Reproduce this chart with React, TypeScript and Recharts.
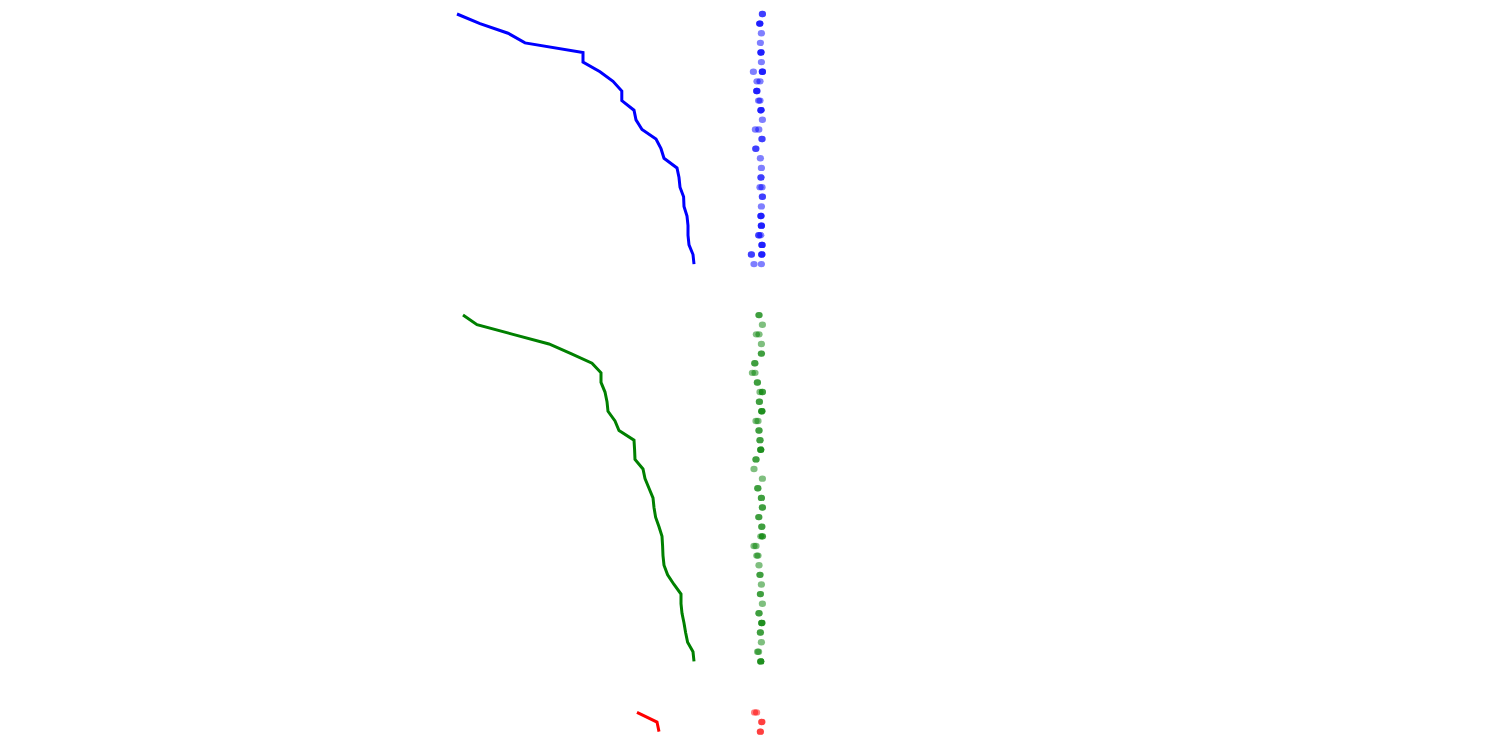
import React from "react";
import { ScatterChart, Scatter, XAxis, YAxis } from "recharts";

// Line values per row (value units), top to bottom
const blueLineValues = [224.5, 236, 250, 258.5, 287.5, 287.5, 296, 302.5, 306.9, 306.9, 313, 314, 317, 324, 326.5, 328, 334.5, 335.5, 336, 337.8, 338, 339.5, 340, 340, 340.5, 342.5, 343];
const greenLineValues = [227.5, 234.5, 252.5, 270.5, 281.5, 292, 296.5, 296.5, 298.5, 299.5, 300, 303.5, 305.5, 313, 313.3, 313.5, 317.5, 318.5, 320.5, 322.5, 323, 323.8, 325.5, 327, 327.3, 327.5, 328, 329.8, 333, 336.5, 336.5, 337, 338, 338.8, 339.8, 342.5, 343];
const redLineValues = [314.5, 324.5, 325.5];

// Point values per row
const blueDotValues: number[][] = [
  [377.2, 377.2], [375.9, 375.9, 375.9], [376.7], [376.2], [376.5, 376.5, 376.5], [376.7],
  [372.7, 377.2, 377.2, 377.2], [374.5, 376], [374.4, 374.4, 374.4], [375.3, 376], [376.5, 376.5, 376.5],
  [377.2], [373.7, 375.4], [377, 377], [373.9, 373.9], [376.2], [376.7], [376.5, 376.5], [376, 377],
  [377.2, 377.2], [376.7], [376.5, 376.5, 376.5], [376.7, 376.7, 376.7], [375.4, 375.4, 376.4],
  [377, 377, 377], [371.7, 371.7, 376.9, 376.9, 376.9], [373, 376.7],
];
const greenDotValues: number[][] = [
  [375.5, 375.5], [377.2], [374.2, 375.5], [376.7], [376.7, 376.7], [373.4, 373.4], [372.2, 373.5],
  [374.7, 374.7], [376, 377.2, 377.2], [375.7, 375.7], [376.9, 376.9, 376.9], [374, 375], [375.5, 375.5],
  [376, 376], [376.4, 376.4, 376.4], [374, 374], [373], [377.2], [374.9, 374.9], [376.7, 376.7],
  [377.2, 377.2], [375.4, 375.4], [376.9, 376.9], [376.4, 377.2, 377.2], [373, 374], [374.4, 375],
  [375.5], [376, 376], [376.7], [376.2, 376.2], [377.2], [375.5, 375.5], [376.9, 376.9, 376.9],
  [376.2, 376.2], [376.7], [374.8, 375.3], [376.4, 376.4, 376.4],
];
const redDotValues: number[][] = [[373.3, 374.3], [376.9, 376.9], [376.2, 376.2]];

// Row offsets of each group
const BLUE_OFFSET = 0;
const GREEN_OFFSET = 31.3;
const RED_OFFSET = 72.6;

const toLine = (vals: number[], off: number) => vals.map((x, i) => ({ x, y: off + i }));
const toDots = (rows: number[][], off: number) =>
  rows.flatMap((r, i) => r.map((x) => ({ x, y: off + i })));

const blueLine = toLine(blueLineValues, BLUE_OFFSET);
const greenLine = toLine(greenLineValues, GREEN_OFFSET);
const redLine = toLine(redLineValues, RED_OFFSET);
const blueDots = toDots(blueDotValues, BLUE_OFFSET);
const greenDots = toDots(greenDotValues, GREEN_OFFSET);
const redDots = toDots(redDotValues, RED_OFFSET);

const noShape = () => <g />;
const dotShape = (color: string) => (props: any) => (
  <ellipse cx={props.cx} cy={props.cy} rx={3.6} ry={3.2} fill={color} fillOpacity={0.5} />
);

export default function App() {
  return (
    <ScatterChart width={1484} height={734} margin={{ top: 0, right: 0, bottom: 0, left: 0 }}>
      <XAxis type="number" dataKey="x" domain={[0, 742]} hide allowDataOverflow />
      <YAxis type="number" dataKey="y" domain={[-0.624, 75.676]} reversed hide allowDataOverflow />
      <Scatter data={blueLine} line={{ stroke: "#0000ff", strokeWidth: 3 }} lineType="joint" shape={noShape} isAnimationActive={false} />
      <Scatter data={greenLine} line={{ stroke: "#008000", strokeWidth: 3 }} lineType="joint" shape={noShape} isAnimationActive={false} />
      <Scatter data={redLine} line={{ stroke: "#ff0000", strokeWidth: 3 }} lineType="joint" shape={noShape} isAnimationActive={false} />
      <Scatter data={blueDots} shape={dotShape("#0000ff")} isAnimationActive={false} />
      <Scatter data={greenDots} shape={dotShape("#008000")} isAnimationActive={false} />
      <Scatter data={redDots} shape={dotShape("#ff0000")} isAnimationActive={false} />
    </ScatterChart>
  );
}
